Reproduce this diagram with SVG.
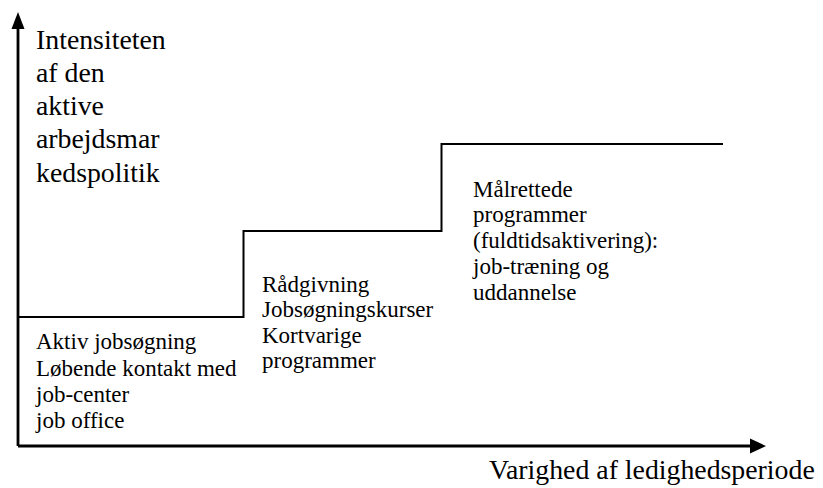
<svg xmlns="http://www.w3.org/2000/svg" width="823" height="488" viewBox="0 0 823 488">
<style>
.ax{stroke:#000;stroke-width:2.8;fill:none}
.st{stroke:#000;stroke-width:2;fill:none}
.ah{fill:#000}
</style>
<rect width="823" height="488" fill="#fff"/>
<g id="connectors">
<line class="ax" x1="18" y1="446" x2="18" y2="26"/>
<polygon class="ah" points="18,12 11.5,29 24.5,29"/>
<line class="ax" x1="18" y1="446" x2="752" y2="446"/>
<polygon class="ah" points="766,446 750,438.5 750,453.5"/>
<polyline class="st" points="18,317 243.5,317 243.5,231 441.5,231 441.5,144 723,144"/>
</g>
<g font-family="Liberation Serif, Times New Roman, serif" fill="#000">
<g id="y-label" font-size="27.8">
<text x="36" y="49">Intensiteten</text>
<text x="36" y="82">af den</text>
<text x="36" y="115">aktive</text>
<text x="36" y="148">arbejdsmar</text>
<text x="36" y="182">kedspolitik</text>
</g>
<g id="x-label" font-size="27.8">
<text x="489" y="479">Varighed af ledighedsperiode</text>
</g>
<g id="step1" font-size="23">
<text x="36" y="349">Aktiv jobsøgning</text>
<text x="36" y="375.5">Løbende kontakt med</text>
<text x="36" y="402">job-center</text>
<text x="36" y="428">job office</text>
</g>
<g id="step2" font-size="23">
<text x="262" y="291.5">Rådgivning</text>
<text x="262" y="317">Jobsøgningskurser</text>
<text x="262" y="342.5">Kortvarige</text>
<text x="262" y="368">programmer</text>
</g>
<g id="step3" font-size="23">
<text x="473" y="196.5">Målrettede</text>
<text x="473" y="222.3">programmer</text>
<text x="473" y="248">(fuldtidsaktivering):</text>
<text x="473" y="273.8">job-træning og</text>
<text x="473" y="299.6">uddannelse</text>
</g>
</g>
</svg>
